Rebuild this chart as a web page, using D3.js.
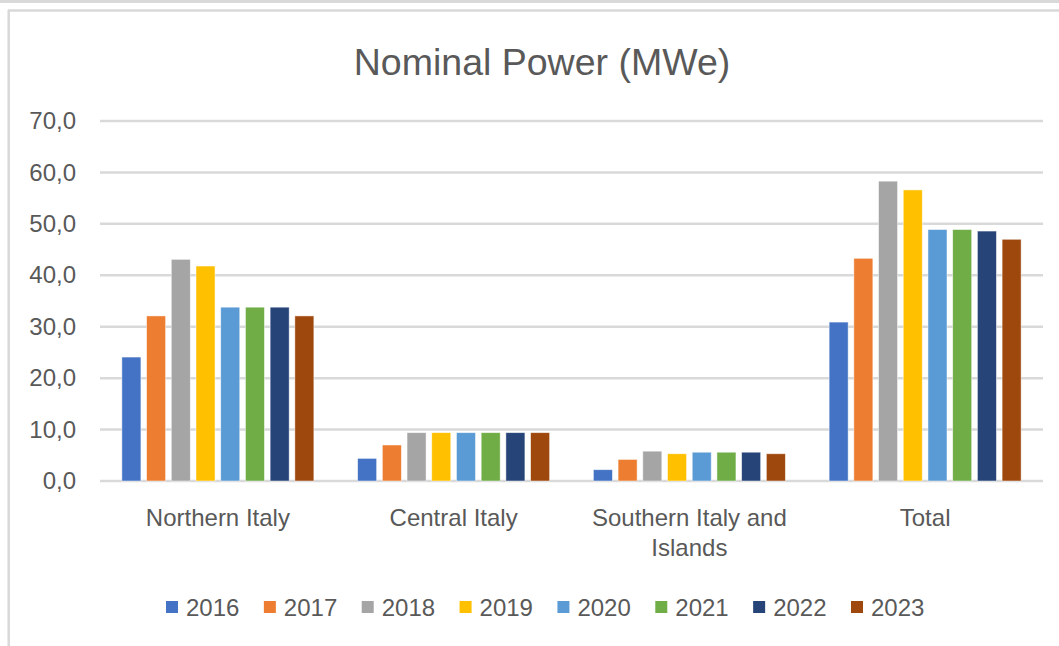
<!DOCTYPE html>
<html>
<head>
<meta charset="utf-8">
<script src="https://cdn.jsdelivr.net/npm/d3@7"></script>
<style>
  html, body { margin: 0; padding: 0; background: #fff; }
  svg { display: block; }
  text { font-family: "Liberation Sans", Arial, sans-serif; fill: #595959; }
</style>
</head>
<body>
<svg id="chart" width="1059" height="646"></svg>
<script>
const categories = ["Northern Italy", "Central Italy", "Southern Italy and Islands", "Total"];
const categoryLines = [["Northern Italy"], ["Central Italy"], ["Southern Italy and", "Islands"], ["Total"]];
const years = ["2016", "2017", "2018", "2019", "2020", "2021", "2022", "2023"];
const northern = [24.1, 32.1, 43.1, 41.8, 33.8, 33.8, 33.8, 32.1];
const central  = [4.4, 7.0, 9.4, 9.4, 9.4, 9.4, 9.4, 9.4];
const southern = [2.2, 4.2, 5.8, 5.3, 5.6, 5.6, 5.6, 5.3];
const total    = [30.9, 43.3, 58.3, 56.6, 48.9, 48.9, 48.6, 47.0];
const yTicks = [0, 10, 20, 30, 40, 50, 60, 70];
const colors = ["#4472C4", "#ED7D31", "#A5A5A5", "#FFC000", "#5B9BD5", "#70AD47", "#264478", "#9E480E"];
const title = "Nominal Power (MWe)";

(function () {
const seriesByCategory = [northern, central, southern, total];

const svg = d3.select("#chart");

// frame
svg.append("rect").attr("x", 0).attr("y", 0).attr("width", 1059).attr("height", 3).attr("fill", "#d9d9d9");
svg.append("line").attr("x1", 8).attr("x2", 1059).attr("y1", 10.5).attr("y2", 10.5)
  .attr("stroke", "#d9d9d9").attr("stroke-width", 2.5);
svg.append("line").attr("x1", 8.7).attr("x2", 8.7).attr("y1", 10).attr("y2", 646)
  .attr("stroke", "#d9d9d9").attr("stroke-width", 2.5);

const pLeft = 100, pRight = 1043, pTop = 121, pBottom = 481;

const y = d3.scaleLinear().domain([0, 70]).range([pBottom, pTop]);
const x0 = d3.scaleBand().domain(categories).range([pLeft, pRight]).padding(0);
const groupPad = (x0.bandwidth() - 192) / 2;
const x1 = d3.scaleBand().domain(years).range([groupPad, x0.bandwidth() - groupPad]).paddingInner(0.23).paddingOuter(0);

// title
svg.append("text").attr("x", 542).attr("y", 62).attr("text-anchor", "middle")
  .attr("dominant-baseline", "central").style("font-size", "37.5px").text(title);

// gridlines
svg.append("g").selectAll("line").data(yTicks).join("line")
  .attr("x1", pLeft).attr("x2", pRight)
  .attr("y1", d => y(d)).attr("y2", d => y(d))
  .attr("stroke", "#d9d9d9").attr("stroke-width", 2.5);

// y axis labels
const yAxis = d3.axisLeft(y).tickValues(yTicks).tickSize(0).tickPadding(0)
  .tickFormat(d => d3.format(".1f")(d).replace(".", ","));
const yg = svg.append("g").attr("transform", `translate(76,0)`).call(yAxis);
yg.select(".domain").remove();
yg.selectAll("text").style("font-size", "24px").attr("fill", "#595959")
  .style("font-family", "Liberation Sans, Arial, sans-serif");

// bars
const groups = svg.append("g").selectAll("g").data(categories).join("g")
  .attr("transform", d => `translate(${x0(d)},0)`);
groups.selectAll("rect").data((c, i) => years.map((yr, j) => ({ yr, v: seriesByCategory[i][j], j })))
  .join("rect")
  .attr("x", d => x1(d.yr))
  .attr("width", x1.bandwidth())
  .attr("y", d => y(d.v))
  .attr("height", d => y(0) - y(d.v))
  .attr("fill", d => colors[d.j])
  .attr("stroke", "#ffffff").attr("stroke-width", 0.8).attr("stroke-opacity", 0.6);

// category labels
const xl = svg.append("g");
categories.forEach((c, i) => {
  const t = xl.append("text").attr("x", x0(c) + x0.bandwidth() / 2).attr("y", 517)
    .attr("text-anchor", "middle").attr("dominant-baseline", "central").style("font-size", "24px");
  categoryLines[i].forEach((ln, k) => {
    t.append("tspan").attr("x", x0(c) + x0.bandwidth() / 2).attr("dy", k === 0 ? 0 : 30).text(ln);
  });
});

// legend
const legendX = d3.scalePoint().domain(years).range([166, 851]);
const lg = svg.append("g").selectAll("g").data(years).join("g")
  .attr("transform", d => `translate(${legendX(d)},607)`);
lg.append("rect").attr("x", 0).attr("y", -6).attr("width", 12).attr("height", 12)
  .attr("fill", (d, i) => colors[i]);
lg.append("text").attr("x", 20).attr("y", 0).attr("dominant-baseline", "central")
  .style("font-size", "24px").text(d => d);
})();
</script>
</body>
</html>
